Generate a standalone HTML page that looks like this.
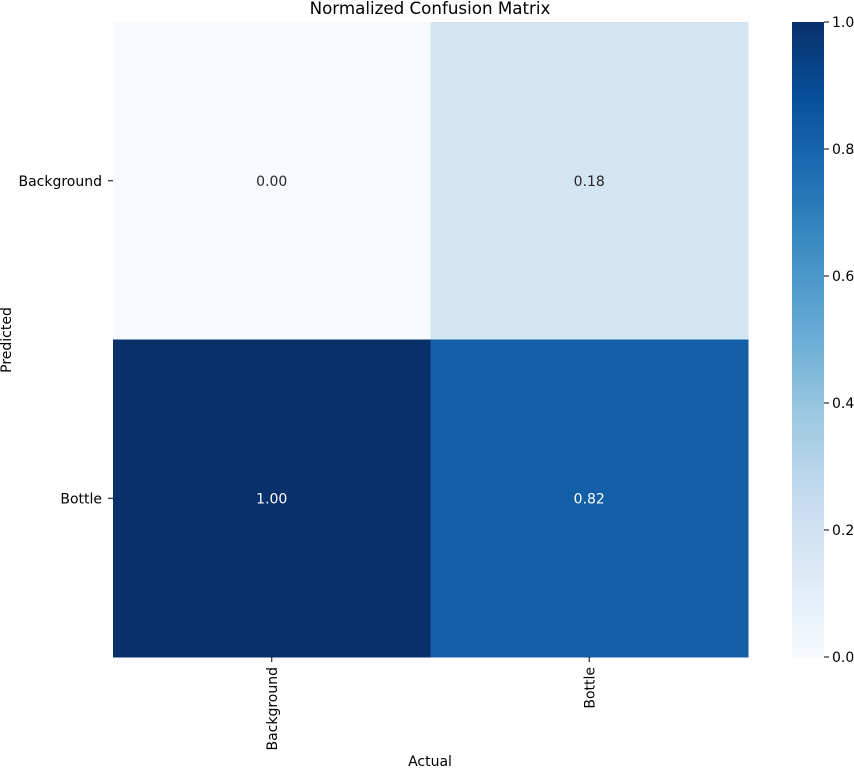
<!DOCTYPE html>
<html><head><meta charset="utf-8"><style>
body{margin:0;background:#fff;}
svg text{font-family:"DejaVu Sans","Liberation Sans",sans-serif;}
</style></head><body>
<svg id="chart" width="854" height="770" xmlns="http://www.w3.org/2000/svg">
<text x="430" y="14" text-anchor="middle" font-size="16.7" fill="#000">Normalized Confusion Matrix</text>
<g id="cells"></g>
<g id="axes"></g>
<defs><linearGradient id="cbgrad" x1="0" y1="1" x2="0" y2="0">
<stop offset="0" stop-color="#f7fbff"/><stop offset="0.125" stop-color="#deebf7"/><stop offset="0.25" stop-color="#c6dbef"/><stop offset="0.375" stop-color="#9ecae1"/><stop offset="0.5" stop-color="#6baed6"/><stop offset="0.625" stop-color="#4292c6"/><stop offset="0.75" stop-color="#2171b5"/><stop offset="0.875" stop-color="#08519c"/><stop offset="1" stop-color="#08306b"/>
</linearGradient></defs>
<rect x="792" y="22" width="32" height="635" fill="url(#cbgrad)"/>
<g id="cbticks"></g>
<text x="430" y="766" text-anchor="middle" font-size="14">Actual</text>
<text transform="translate(11,340) rotate(-90)" text-anchor="middle" font-size="14">Predicted</text>
</svg>
<script>
const rowLabels=["Background","Bottle"];
const colLabels=["Background","Bottle"];
const values=[[0.00,0.18],[1.00,0.82]];
const cbTicks=[0.0,0.2,0.4,0.6,0.8,1.0];
const NS="http://www.w3.org/2000/svg";
const L=113,T=22,W=635,H=635;
const stops=[[247,251,255],[222,235,247],[198,219,239],[158,202,225],[107,174,214],[66,146,198],[33,113,181],[8,81,156],[8,48,107]];
function cmap(v){const p=Math.max(0,Math.min(1,v))*8;const i=Math.min(7,Math.floor(p));const t=p-i;const a=stops[i],b=stops[i+1];return `rgb(${a.map((c,k)=>Math.round(c+(b[k]-c)*t)).join(',')})`;}
function el(tag,attrs,parent,txt){const e=document.createElementNS(NS,tag);for(const k in attrs)e.setAttribute(k,attrs[k]);if(txt!==undefined)e.textContent=txt;parent.appendChild(e);return e;}
const cw=W/colLabels.length,ch=H/rowLabels.length;
const cells=document.getElementById('cells'),axes=document.getElementById('axes');
values.forEach((row,r)=>row.forEach((v,c)=>{
 const rect=el('rect',{x:L+c*cw,y:T+r*ch,width:cw+0.5,height:ch+0.5,fill:cmap(v)},cells);
 
 
 const t=el('text',{x:L+c*cw+cw/2,y:T+r*ch+ch/2+5,'text-anchor':'middle','font-size':'14',fill:v>0.5?'#fff':'#262626'},cells,v.toFixed(2));
 
 
}));
rowLabels.forEach((lab,r)=>{const y=T+r*ch+ch/2;
 const tk=el('line',{x1:L-5,x2:L,y1:y,y2:y,stroke:'#000','stroke-width':1},axes);
 
 
 const t=el('text',{x:L-11,y:y+5,'text-anchor':'end','font-size':'14'},axes,lab);
 
 
});
colLabels.forEach((lab,c)=>{const x=L+c*cw+cw/2;
 const tk=el('line',{x1:x,x2:x,y1:T+H,y2:T+H+5,stroke:'#000','stroke-width':1},axes);
 
 
 const t=el('text',{transform:`translate(${x+5},${T+H+10}) rotate(-90)`,'text-anchor':'end','font-size':'14'},axes,lab);
 
 
});
const cb=document.getElementById('cbticks');
cbTicks.forEach(v=>{const y=T+H-v*H;
 const tk=el('line',{x1:824,x2:829,y1:y,y2:y,stroke:'#000','stroke-width':1},cb);
 
 
 const t=el('text',{x:832,y:y+5,'font-size':'14'},cb,v.toFixed(1));
 
 
});
</script>
</body></html>
